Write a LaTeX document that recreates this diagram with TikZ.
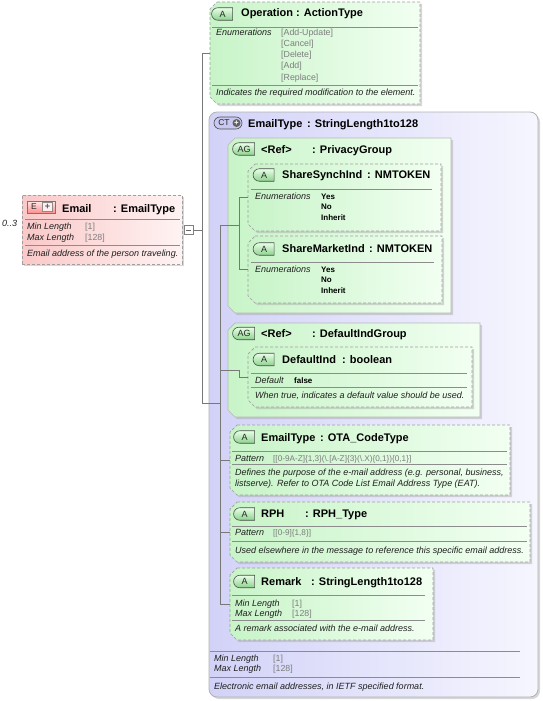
\documentclass[tikz,border=0pt]{standalone}
\usepackage{fontspec}
\setmainfont{Liberation Sans}
\usetikzlibrary{shapes.misc,shadows}

\definecolor{attrleft}{RGB}{200,244,200}
\definecolor{attrright}{RGB}{242,255,242}
\definecolor{ctleft}{RGB}{210,210,248}
\definecolor{ctright}{RGB}{246,246,255}
\definecolor{elleft}{RGB}{250,200,200}
\definecolor{elright}{RGB}{255,243,243}
\definecolor{linegray}{RGB}{120,120,120}
\definecolor{sepgray}{RGB}{140,140,140}
\definecolor{valgray}{RGB}{125,125,125}
\definecolor{dashgray}{RGB}{160,160,160}
\definecolor{badgetop}{RGB}{232,255,232}
\definecolor{badgebot}{RGB}{140,210,140}

\tikzset{
  conn/.style={draw=linegray, line width=.6pt},
  sepline/.style={draw=sepgray, line width=.6pt},
  shade box/.style={drop shadow={shadow xshift=2pt, shadow yshift=-2pt, fill=black!35, opacity=.45}},
  boxarea/.style={rectangle, inner sep=0pt, outer sep=0pt},
  attrbox/.style={draw=dashgray, line width=.7pt, dash pattern=on 3pt off 2pt,
    left color=attrleft, right color=attrright, shade box},
  groupbox/.style={attrbox, solid, draw=black!28},
  ctbox/.style={rectangle, rounded corners=8pt, inner sep=0pt, draw=black!30, line width=.8pt,
    left color=ctleft, right color=ctright, shade box},
  elbox/.style={rectangle, inner sep=0pt, draw=dashgray, line width=.7pt, dash pattern=on 3pt off 2pt,
    left color=elleft, right color=elright, shade box},
  abadge/.style={rounded rectangle, rounded rectangle right arc=none, draw=black!70, line width=.6pt,
    top color=badgetop, bottom color=badgebot, inner sep=0pt, minimum width=21pt, minimum height=12.5pt,
    font=\fontsize{9}{9}\selectfont, text=black!85},
  ctbadge/.style={rounded rectangle, draw=black!70, line width=.6pt, fill={rgb,255:red,200;green,200;blue,240},
    inner sep=0pt, minimum width=28pt, minimum height=12pt},
  elbadge/.style={rectangle, draw=red!35!black!60, line width=.6pt, top color=red!8, bottom color=red!45,
    inner sep=0pt, minimum width=28pt, minimum height=12pt},
  badgetext/.style={inner sep=0pt, font=\fontsize{8.5}{8.5}\selectfont, text=black!85},
  ttl/.style={anchor=base west, inner sep=0pt, font=\fontsize{11}{12}\selectfont\bfseries},
  lbl/.style={anchor=base west, inner sep=0pt, font=\fontsize{9}{10}\selectfont\itshape, text=black!88},
  dsc/.style={lbl},
  val/.style={anchor=base west, inner sep=0pt, font=\fontsize{8.8}{10}\selectfont, text=valgray},
  enumv/.style={anchor=base west, inner sep=0pt, font=\fontsize{8}{10}\selectfont\bfseries},
  minusbox/.style={rectangle, draw=black!50, fill=white, line width=.6pt, minimum size=9pt, inner sep=0pt,
    path picture={\draw[black!60] ([xshift=2pt]path picture bounding box.west) -- ([xshift=-2pt]path picture bounding box.east);}}
}

% chamfered box: style, name, x1, y1, x2, y2
\newcommand\chambox[6]{%
  \path[#1] ({#3+7},#4) -- (#5,#4) -- (#5,#6) -- ({#3+7},#6) -- (#3,{#6-7}) -- (#3,{#4+7}) -- cycle;
  \node[boxarea, minimum width={#5-#3}, minimum height={#6-#4}] (#2) at ({(#3+#5)/2},{(#4+#6)/2}) {};
}

\begin{document}
\begin{tikzpicture}[x=1pt,y=-1pt]
\useasboundingbox (0,0) rectangle (543,701);

% boxes
\node[ctbox, minimum width=329pt, minimum height=585pt] (ct) at (373.5,404.5) {};
\node[elbox, minimum width=160pt, minimum height=69pt] (email) at (102,229.5) {};
\chambox{attrbox}{op}{210}{2}{420}{104}
\chambox{groupbox}{privacy}{228}{138}{451}{313}
\chambox{groupbox}{defgrp}{228}{323}{480}{417}
\chambox{attrbox}{synch}{248}{164}{441}{231}
\chambox{attrbox}{market}{248}{236}{442}{303}
\chambox{attrbox}{defind}{248}{347}{472}{407}
\chambox{attrbox}{etype}{230}{425}{510}{495}
\chambox{attrbox}{rph}{230}{502}{530}{562}
\chambox{attrbox}{remark}{230}{568}{433}{640}

% separators
\draw[sepline] (25,219) -- (180,219) (25,245) -- (180,245);
\draw[sepline] (212,27) -- (418,27) (212,85) -- (418,85);
\draw[sepline] (210,651) -- (520,651) (210,677) -- (520,677);
\draw[sepline] (251,189) -- (432,189);
\draw[sepline] (251,262) -- (434,262);
\draw[sepline] (251,373) -- (467,373) (251,387) -- (467,387);
\draw[sepline] (232,451) -- (507,451) (232,464) -- (507,464);
\draw[sepline] (232,526) -- (527,526) (232,541) -- (527,541);
\draw[sepline] (232,595) -- (425,595) (232,620) -- (425,620);

% connectors
\node[minusbox] (email-minus) at (188.5,230) {};
\coordinate (fork) at (202,230);
\coordinate (ctbus) at (220,403);
\coordinate (agbus) at (239,403);
\draw[conn] (email-minus) -- (fork) |- (op);
\draw[conn] (fork) |- (ctbus);
\draw[conn] (ctbus |- privacy.west) -- (ctbus |- remark.west);
\draw[conn] (ctbus |- privacy.west) -- (agbus |- privacy.west);
\draw[conn] (agbus |- synch.west) -- (agbus |- market.west);
\draw[conn] (agbus |- synch.west) -- (synch.west);
\draw[conn] (agbus |- market.west) -- (market.west);
\draw[conn] (ctbus |- defgrp.west) -- (agbus |- defgrp.west) -- (agbus |- defind.west) -- (defind.west);
\foreach \n in {etype,rph,remark}
  \draw[conn] (ctbus |- \n.west) -- (\n.west);

% Email
\node[lbl] (email-occ) at (2,226) {0..3};
\node[elbadge] (email-badge) at (41,207) {};
\node[badgetext] (email-e) at (34,207) {E};
\node[rectangle, draw=black!45, fill=red!6, minimum width=10pt, minimum height=9pt, inner sep=0pt,
  font=\fontsize{9}{9}\selectfont\bfseries, text=black!65] (email-plus) at (47.5,207) {+};
\node[ttl] (email-name) at (62,212) {Email};
\node[ttl] (email-type) at (113,212) {: EmailType};
\node[lbl] (email-min) at (27,229) {Min Length};
\node[lbl] (email-max) at (27,240) {Max Length};
\node[val] (email-minv) at (85,229) {[1]};
\node[val] (email-maxv) at (85,240) {[128]};
\node[dsc] (email-doc) at (27,256) {Email address of the person traveling.};

% Operation
\node[abadge] (op-badge) at (222.5,14) {A};
\node[ttl] (op-name) at (241,17) {Operation};
\node[ttl] (op-type) at (296,17) {: ActionType};
\node[lbl] (op-enum) at (216,36) {Enumerations};
\foreach \v [count=\i] in {Add-Update,Cancel,Delete,Add,Replace}
  \node[val] (op-v\i) at (281,{25+11*\i}) {[\v]};
\node[dsc] (op-doc) at (216,95) {Indicates the required modification to the element.};

% EmailType complex type
\node[ctbadge] (ct-badge) at (228,123) {};
\node[badgetext] (ct-ct) at (224,123) {CT};
\node[circle, fill=black!62, minimum size=8pt, inner sep=0pt, font=\fontsize{8}{8}\selectfont\bfseries,
  text=white] (ct-plus) at (236.5,123) {+};
\node[ttl] (ct-name) at (248,127) {EmailType};
\node[ttl] (ct-type) at (307,127) {: StringLength1to128};
\node[lbl] (ct-min) at (214,661) {Min Length};
\node[lbl] (ct-max) at (214,671) {Max Length};
\node[val] (ct-minv) at (273,661) {[1]};
\node[val] (ct-maxv) at (273,671) {[128]};
\node[dsc] (ct-doc) at (214,689) {Electronic email addresses, in IETF specified format.};

% PrivacyGroup
\node[abadge, minimum width=22pt] (privacy-badge) at (244,149) {AG};
\node[ttl] (privacy-name) at (261,153) {<Ref>};
\node[ttl] (privacy-type) at (312,153) {: PrivacyGroup};

\node[abadge] (synch-badge) at (264,175) {A};
\node[ttl] (synch-name) at (282,178) {ShareSynchInd};
\node[ttl] (synch-type) at (367,178) {: NMTOKEN};
\node[lbl] (synch-enum) at (255,199) {Enumerations};
\foreach \v [count=\i] in {Yes,No,Inherit}
  \node[enumv] (synch-v\i) at (321,{188.5+10.5*\i}) {\v};

\node[abadge] (market-badge) at (264,249) {A};
\node[ttl] (market-name) at (282,252) {ShareMarketInd};
\node[ttl] (market-type) at (369,252) {: NMTOKEN};
\node[lbl] (market-enum) at (255,272) {Enumerations};
\foreach \v [count=\i] in {Yes,No,Inherit}
  \node[enumv] (market-v\i) at (321,{261.5+10.5*\i}) {\v};

% DefaultIndGroup
\node[abadge, minimum width=22pt] (defgrp-badge) at (244,333.5) {AG};
\node[ttl] (defgrp-name) at (261,337) {<Ref>};
\node[ttl] (defgrp-type) at (312,337) {: DefaultIndGroup};

\node[abadge] (defind-badge) at (264,359.5) {A};
\node[ttl] (defind-name) at (282,363) {DefaultInd};
\node[ttl] (defind-type) at (342,363) {: boolean};
\node[lbl] (defind-dflt) at (255,383) {Default};
\node[enumv] (defind-dfltv) at (294,383) {false};
\node[dsc] (defind-doc) at (255,398) {When true, indicates a default value should be used.};

% EmailType attribute
\node[abadge] (etype-badge) at (244.5,437) {A};
\node[ttl] (etype-name) at (261,441) {EmailType};
\node[ttl] (etype-type) at (320,441) {: OTA\_CodeType};
\node[lbl] (etype-pat) at (235,461) {Pattern};
\node[val, font=\fontsize{8.2}{10}\selectfont] (etype-patv) at (273,461) {[[0-9A-Z]\{1,3\}(\textbackslash.[A-Z]\{3\}(\textbackslash.X)\{0,1\})\{0,1\}]};
\node[dsc] (etype-doc1) at (235,475) {Defines the purpose of the e-mail address (e.g. personal, business,};
\node[dsc] (etype-doc2) at (235,486) {listserve). Refer to OTA Code List Email Address Type (EAT).};

% RPH
\node[abadge] (rph-badge) at (244.5,514) {A};
\node[ttl] (rph-name) at (261,517) {RPH};
\node[ttl] (rph-type) at (305,517) {: RPH\_Type};
\node[lbl] (rph-pat) at (235,535) {Pattern};
\node[val, font=\fontsize{8.2}{10}\selectfont] (rph-patv) at (273,535) {[[0-9]\{1,8\}]};
\node[dsc] (rph-doc) at (235,553) {Used elsewhere in the message to reference this specific email address.};

% Remark
\node[abadge] (remark-badge) at (244.5,581.5) {A};
\node[ttl] (remark-name) at (261,585) {Remark};
\node[ttl] (remark-type) at (311,585) {: StringLength1to128};
\node[lbl] (remark-min) at (235,606) {Min Length};
\node[lbl] (remark-max) at (235,616) {Max Length};
\node[val] (remark-minv) at (292,606) {[1]};
\node[val] (remark-maxv) at (292,616) {[128]};
\node[dsc] (remark-doc) at (235,631) {A remark associated with the e-mail address.};
\end{tikzpicture}
\end{document}
